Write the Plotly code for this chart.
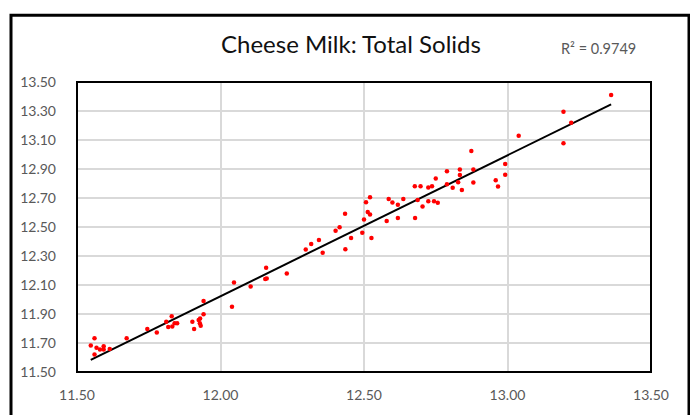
import numpy as np
import plotly.graph_objects as go

# Data
x_vals = [11.548, 11.561, 11.561, 11.568, 11.580, 11.593, 11.593, 11.614, 11.673, 11.745,
          11.778, 11.811, 11.830, 11.818, 11.832, 11.840, 11.849, 11.902, 11.908, 11.924,
          11.928, 11.931, 11.929, 11.941, 11.941, 12.040, 12.047, 12.105, 12.159, 12.156,
          12.161, 12.231, 12.297, 12.316, 12.343, 12.356, 12.401, 12.415, 12.434, 12.435,
          12.455, 12.494, 12.500, 12.507, 12.513, 12.521, 12.521, 12.526, 12.579, 12.586,
          12.599, 12.618, 12.618, 12.637, 12.677, 12.678, 12.687, 12.697, 12.704, 12.724,
          12.724, 12.737, 12.744, 12.750, 12.757, 12.789, 12.789, 12.809, 12.828, 12.834,
          12.834, 12.841, 12.874, 12.881, 12.881, 12.959, 12.967, 12.992, 12.992, 13.039,
          13.195, 13.195, 13.222, 13.361]
y_vals = [11.683, 11.733, 11.620, 11.668, 11.656, 11.678, 11.656, 11.659, 11.733, 11.796,
          11.773, 11.846, 11.885, 11.810, 11.814, 11.837, 11.837, 11.846, 11.796, 11.859,
          11.837, 11.819, 11.869, 11.899, 11.990, 11.950, 12.117, 12.090, 12.219, 12.142,
          12.144, 12.180, 12.345, 12.383, 12.410, 12.322, 12.474, 12.498, 12.592, 12.347,
          12.424, 12.461, 12.552, 12.670, 12.603, 12.705, 12.587, 12.425, 12.541, 12.693,
          12.669, 12.653, 12.562, 12.693, 12.781, 12.562, 12.686, 12.781, 12.642, 12.773,
          12.678, 12.781, 12.678, 12.834, 12.668, 12.885, 12.795, 12.771, 12.808, 12.897,
          12.858, 12.756, 13.024, 12.897, 12.807, 12.822, 12.780, 12.935, 12.860, 13.129,
          13.295, 13.078, 13.219, 13.410]

title_text = "Cheese Milk: Total Solids"
r2_text = "R² = 0.9749"
x_ticks = [11.5, 12.0, 12.5, 13.0, 13.5]
y_ticks = [11.5, 11.7, 11.9, 12.1, 12.3, 12.5, 12.7, 12.9, 13.1, 13.3, 13.5]

# Linear trend line
xa = np.array(x_vals)
ya = np.array(y_vals)
slope, intercept = np.polyfit(xa, ya, 1)
tx = np.array([xa.min(), xa.max()])
ty = slope * tx + intercept

fig = go.Figure()
fig.add_trace(go.Scatter(x=tx, y=ty, mode="lines",
                         line=dict(color="black", width=2), hoverinfo="skip",
                         showlegend=False))
fig.add_trace(go.Scatter(x=x_vals, y=y_vals, mode="markers",
                         marker=dict(color="#ff0000", size=4.5, line=dict(width=0)),
                         showlegend=False))

font_family = "Lato, 'Open Sans', sans-serif"
tick_font = dict(family=font_family, size=14, color="#595959")

# page has an 8px body margin, so the figure is 8px smaller than the window
fig.update_layout(
    width=690, height=407,
    margin=dict(l=69, r=47, t=74, b=38),
    paper_bgcolor="white", plot_bgcolor="white",
    xaxis=dict(range=[11.5, 13.5], tickvals=x_ticks,
               ticktext=[f"{v:.2f}" for v in x_ticks],
               showgrid=True, gridcolor="#d9d9d9", gridwidth=1.5,
               zeroline=False, showline=False, ticks="",
               tickfont=tick_font, ticklabelstandoff=13),
    yaxis=dict(range=[11.5, 13.5], tickvals=y_ticks,
               ticktext=[f"{v:.2f}" for v in y_ticks],
               showgrid=True, gridcolor="#d9d9d9", gridwidth=1.5,
               zeroline=False, showline=False, ticks="",
               tickfont=tick_font, ticklabelstandoff=20),
    shapes=[
        dict(type="rect", xref="paper", yref="paper", x0=0, x1=1, y0=0, y1=1,
             line=dict(color="black", width=2), layer="above"),
        dict(type="rect", xref="paper", yref="paper",
             x0=(11 - 77) / 574, x1=(689 - 77) / 574,
             y0=-0.25, y1=(377 - 14) / 295,
             line=dict(color="black", width=3), layer="above"),
    ],
    annotations=[
        dict(text=title_text, xref="paper", yref="paper",
             x=(351 - 77) / 574, y=(377 - 43) / 295,
             xanchor="center", yanchor="middle", showarrow=False,
             font=dict(family=font_family, size=24, color="#111111")),
        dict(text=r2_text, xref="paper", yref="paper",
             x=(598 - 77) / 574, y=(377 - 48) / 295,
             xanchor="center", yanchor="middle", showarrow=False,
             font=dict(family=font_family, size=14.5, color="#595959")),
    ],
)

fig.write_html("out.html")
